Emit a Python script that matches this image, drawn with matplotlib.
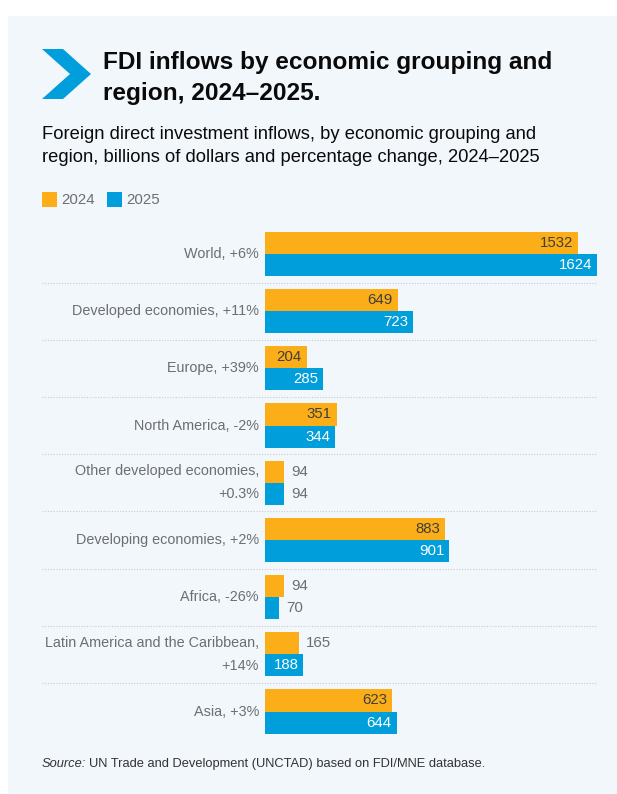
"""FDI inflows by economic grouping and region, 2024-2025."""

import matplotlib

matplotlib.use("Agg")
import matplotlib.pyplot as plt
import matplotlib.patches as mpatches
import matplotlib.transforms as mtransforms


plt.rcParams.update(
    {
        "font.family": ["Liberation Sans", "DejaVu Sans"],
        "figure.facecolor": "white",
        "savefig.facecolor": "white",
    }
)

C = {
    "panel": "#F2F7FC",
    "y2024": "#FBAE17",
    "y2025": "#009EDB",
    "label": "#6D6E71",
    "inside_dark": "#3F3F3F",
    "title": "#0A0A0A",
    "sep": "#C9CCCF",
}
FS = 10.8      # values and legend
FS_CAT = 10.4  # category labels

categories = [
    "World, +6%",
    "Developed economies, +11%",
    "Europe, +39%",
    "North America, -2%",
    "Other developed economies,\n+0.3%",
    "Developing economies, +2%",
    "Africa, -26%",
    "Latin America and the Caribbean,\n+14%",
    "Asia, +3%",
]
values_2024 = [1532, 649, 204, 351, 94, 883, 94, 165, 623]
values_2025 = [1624, 723, 285, 344, 94, 901, 70, 188, 644]
years = ["2024", "2025"]

W_PX, H_PX = 617, 794
fig = plt.figure(figsize=(W_PX / 100, H_PX / 100), dpi=100)

# overlay axes in pixel coordinates for the frame, title and notes
deco = fig.add_axes([0, 0, 1, 1])
deco.set_xlim(0, W_PX)
deco.set_ylim(H_PX, 0)
deco.axis("off")
deco.patch.set_alpha(0)

deco.add_patch(mpatches.Rectangle((8, 16), W_PX - 8, H_PX - 16, facecolor=C["panel"], edgecolor="none", zorder=0))

# chevron
deco.add_patch(
    mpatches.Polygon(
        [(42, 49), (63, 49), (91, 74), (63, 99), (42, 99), (70, 74)],
        closed=True,
        facecolor=C["y2025"],
        edgecolor="none",
        zorder=2,
    )
)
deco.text(103, 69.5, "FDI inflows by economic grouping and", fontsize=17.6, fontweight="bold",
          color=C["title"], ha="left", va="baseline")
deco.text(103, 100, "region, 2024\u20132025.", fontsize=17.6, fontweight="bold",
          color=C["title"], ha="left", va="baseline")

deco.text(42, 139, "Foreign direct investment inflows, by economic grouping and", fontsize=13.2,
          color=C["title"], ha="left", va="baseline")
deco.text(42, 162, "region, billions of dollars and percentage change, 2024\u20132025", fontsize=13.2,
          color=C["title"], ha="left", va="baseline")

# legend
for x0, col, lab in [(42, C["y2024"], years[0]), (107, C["y2025"], years[1])]:
    deco.add_patch(mpatches.Rectangle((x0, 192.3), 15, 15, facecolor=col, edgecolor="none", zorder=2))
    deco.text(x0 + 19, 200, lab, fontsize=FS, color=C["label"], ha="left", va="center")

src = deco.text(42, 767, "Source:", fontsize=9.3, style="italic", color="#333333", ha="left", va="baseline")
renderer = fig.canvas.get_renderer()
src_end = deco.transData.inverted().transform(src.get_window_extent(renderer))[1][0]
deco.text(src_end + 3, 767, "UN Trade and Development (UNCTAD) based on FDI/MNE database.", fontsize=9.3,
          color="#333333", ha="left", va="baseline")

# bar axes
PX_PER_UNIT = 0.2044
X0, X1 = 265, 600
PITCH = 57.2
top = 253.9 - PITCH / 2
bottom = top + PITCH * len(categories)
ax = fig.add_axes([X0 / W_PX, 1 - bottom / H_PX, (X1 - X0) / W_PX, (bottom - top) / H_PX])
ax.set_xlim(0, (X1 - X0) / PX_PER_UNIT)
ax.set_ylim(len(categories) - 0.5, -0.5)
ax.axis("off")
ax.patch.set_alpha(0)

h = 0.388
ypos = list(range(len(categories)))
ax.barh([y - h / 2 for y in ypos], values_2024, height=h, color=C["y2024"], linewidth=0)
ax.barh([y + h / 2 for y in ypos], values_2025, height=h, color=C["y2025"], linewidth=0)

pad = 5 / PX_PER_UNIT
gap = 7 / PX_PER_UNIT
for y, v in zip(ypos, values_2024):
    if v > 180:
        ax.text(v - pad, y - h / 2, f"{v}", ha="right", va="center", fontsize=FS, color=C["inside_dark"])
    else:
        ax.text(v + gap, y - h / 2, f"{v}", ha="left", va="center", fontsize=FS, color=C["label"])
for y, v in zip(ypos, values_2025):
    if v > 180:
        ax.text(v - pad, y + h / 2, f"{v}", ha="right", va="center", fontsize=FS, color="white")
    else:
        ax.text(v + gap, y + h / 2, f"{v}", ha="left", va="center", fontsize=FS, color=C["label"])

# category labels and dotted separators span from the panel margin
blend = mtransforms.blended_transform_factory(deco.transData, ax.transData)
for y, cat in zip(ypos, categories):
    ax.text(259, y, cat, transform=blend, ha="right", va="center", fontsize=FS_CAT,
            color=C["label"], linespacing=1.8)
for y in ypos[:-1]:
    ax.plot([42, 597], [y + 0.5, y + 0.5], transform=blend, color=C["sep"], lw=0.8,
            ls=(0, (1, 1.5)), clip_on=False)

fig.savefig("out.png", dpi=100)
plt.close(fig)
